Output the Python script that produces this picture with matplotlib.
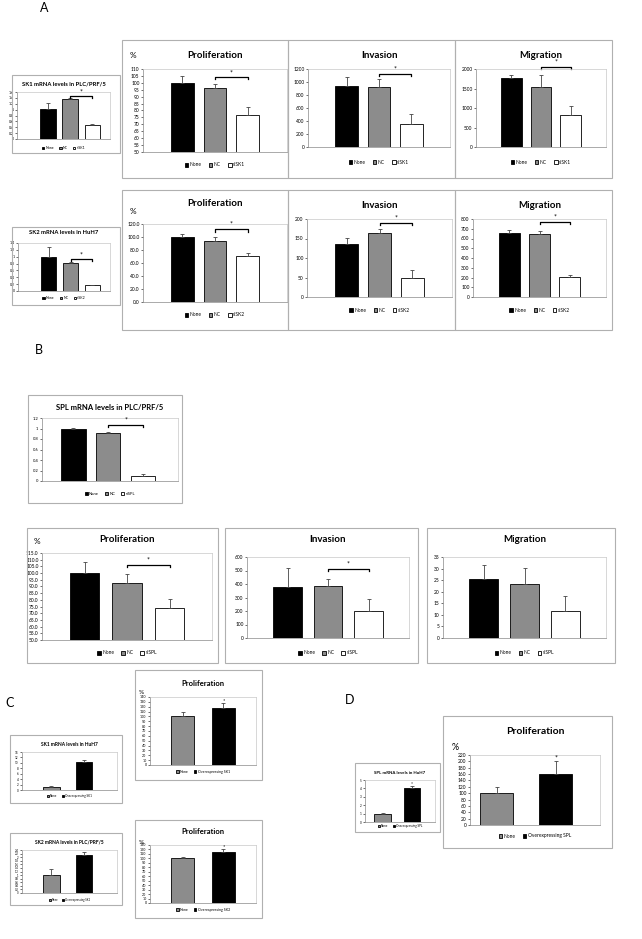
import matplotlib
matplotlib.use("Agg")
import matplotlib.pyplot as plt
from matplotlib.patches import Rectangle
import numpy as np

plt.rcParams["font.family"] = ["Lato", "DejaVu Sans"]

W, H = 642, 939

# ---- data ----
si_sk1 = ["None", "NC", "siSK1"]
si_sk2 = ["None", "NC", "siSK2"]
si_spl = ["None", "NC", "siSPL"]
oe_sk1 = ["None", "Overexpressing SK1"]
oe_sk2 = ["None", "Overexpressing SK2"]
oe_spl = ["None", "Overexpressing SPL"]

sk1_mrna = [1.02, 1.37, 0.48]
sk1_mrna_err = [0.22, 0.02, 0.03]
sk1_prolif = [100, 96.5, 77]
sk1_prolif_err = [5, 3, 5.5]
sk1_inv = [940, 930, 350]
sk1_inv_err = [130, 110, 160]
sk1_mig = [1760, 1540, 820]
sk1_mig_err = [80, 310, 220]

sk2_mrna = [1.0, 0.82, 0.17]
sk2_mrna_err = [0.28, 0.02, 0.01]
sk2_prolif = [100, 94.5, 70.5]
sk2_prolif_err = [4, 5, 4.5]
sk2_inv = [137, 163, 50]
sk2_inv_err = [15, 12, 18]
sk2_mig = [660, 648, 205]
sk2_mig_err = [25, 30, 20]

spl_mrna = [1.0, 0.91, 0.1]
spl_mrna_err = [0.01, 0.02, 0.03]
spl_prolif = [100, 92.5, 74]
spl_prolif_err = [8, 7, 6.5]
spl_inv = [380, 385, 200]
spl_inv_err = [140, 50, 90]
spl_mig = [25.5, 23.3, 11.5]
spl_mig_err = [6, 7, 6.5]

sk1_oe_mrna = [1, 10.3]
sk1_oe_mrna_err = [0.3, 0.8]
sk1_oe_prolif = [100, 118]
sk1_oe_prolif_err = [10, 10]
sk2_oe_mrna = [1.0, 2.1]
sk2_oe_mrna_err = [0.35, 0.2]
sk2_oe_prolif = [100, 115]
sk2_oe_prolif_err = [4, 5]
spl_oe_mrna = [1, 4]
spl_oe_mrna_err = [0.1, 0.3]
spl_oe_prolif = [100, 160]
spl_oe_prolif_err = [20, 40]

colors3 = ["black", "#8c8c8c", "white"]
colors2 = ["#8c8c8c", "black"]

fig = plt.figure(figsize=(W / 100, H / 100), dpi=100)


def box(x, y, w, h):
    fig.add_artist(Rectangle((x / W, 1 - (y + h) / H), w / W, h / H,
                             transform=fig.transFigure, fill=False,
                             edgecolor="#b0b0b0", lw=0.8))


def label(x, y, s, size=4, weight="normal"):
    fig.text(x / W, 1 - y / H, s, fontsize=size, weight=weight,
             ha="center", va="center")


def chart(rect, vals, errs, names, colors, ylim, step, fmt="{:g}",
          title=None, title_y=None, tsize=7, fs=3.5, leg_y=None,
          xlim=(-1.2, 3.2), width=0.7, pct=None):
    x, y, w, h = rect
    ax = fig.add_axes([x / W, 1 - (y + h) / H, w / W, h / H])
    for i in range(len(vals)):
        ax.bar(i, vals[i], width, color=colors[i], edgecolor="black",
               lw=0.6, label=names[i])
        ax.errorbar(i, vals[i], yerr=[[0], [errs[i]]], color="#444444",
                    capsize=1.5, lw=0.6, capthick=0.6)
    ax.set_xlim(*xlim)
    ax.set_ylim(*ylim)
    ticks = np.arange(ylim[0], ylim[1] + step / 2, step)
    ax.set_yticks(ticks)
    ax.set_yticklabels([fmt.format(round(t, 6)) for t in ticks])
    ax.set_xticks([])
    ax.tick_params(axis="y", labelsize=fs, length=1.5, width=0.4, pad=1)
    for s in ax.spines.values():
        s.set_color("#c8c8c8")
        s.set_linewidth(0.5)
    ax.spines["left"].set_color("#888888")
    ax.spines["bottom"].set_color("#888888")
    if title:
        label(x + w / 2, title_y, title, tsize, "bold")
    if pct:
        label(pct[0], pct[1], "%", tsize * 0.85)
    if leg_y:
        fig.legend(*ax.get_legend_handles_labels(), loc="center",
                   bbox_to_anchor=((x + w / 2) / W, 1 - leg_y / H),
                   ncol=len(vals), frameon=False, fontsize=fs,
                   handlelength=0.7, handleheight=0.7, handletextpad=0.3,
                   columnspacing=1.5)
    return ax


def bracket(ax, y, d, x0=1, x1=2):
    ax.plot([x0, x0, x1, x1], [y - d, y, y, y - d], color="black",
            lw=0.9, clip_on=False)
    ax.text((x0 + x1) / 2, y + d * 0.6, "*", ha="center", va="bottom",
            fontsize=5, clip_on=False)


# ---------------- panel A ----------------
fig.text(40 / W, 1 - 8 / H, "A", fontsize=9, va="center")

box(12, 75, 108, 78)
a = chart((17, 92, 93, 47), sk1_mrna, sk1_mrna_err, si_sk1, colors3,
          (0, 1.6), 0.2, title="SK1 mRNA levels in PLC/PRF/5", title_y=84,
          tsize=4.2, fs=2.5, leg_y=148, xlim=(-1.4, 2.8))
bracket(a, 1.45, 0.06)

box(122, 40, 166, 138)
box(288, 40, 167, 138)
box(455, 40, 157, 138)
a = chart((143, 69, 144, 83), sk1_prolif, sk1_prolif_err, si_sk1, colors3,
          (50, 110), 5, title="Proliferation", title_y=55, leg_y=165,
          pct=(133, 55))
bracket(a, 104, 1.5)
a = chart((308, 69, 142, 78), sk1_inv, sk1_inv_err, si_sk1, colors3,
          (0, 1200), 200, title="Invasion", title_y=55, leg_y=162)
bracket(a, 1130, 35)
a = chart((476, 69, 130, 78), sk1_mig, sk1_mig_err, si_sk1, colors3,
          (0, 2000), 500, title="Migration", title_y=55, leg_y=162)
bracket(a, 2050, 60)

box(12, 227, 108, 78)
a = chart((18, 243, 92, 48), sk2_mrna, sk2_mrna_err, si_sk2, colors3,
          (0, 1.4), 0.2, title="SK2 mRNA levels in HuH7", title_y=233,
          tsize=4.2, fs=2.5, leg_y=298, xlim=(-1.4, 2.8))
bracket(a, 0.92, 0.05)

box(122, 190, 166, 140)
box(288, 190, 167, 140)
box(455, 190, 157, 140)
a = chart((143, 224, 144, 78), sk2_prolif, sk2_prolif_err, si_sk2, colors3,
          (0, 120), 20, fmt="{:.1f}", title="Proliferation", title_y=204,
          leg_y=315, pct=(133, 212))
bracket(a, 112, 4)
a = chart((307, 219, 145, 78), sk2_inv, sk2_inv_err, si_sk2, colors3,
          (0, 200), 50, title="Invasion", title_y=205, leg_y=310)
bracket(a, 190, 6)
a = chart((473, 219, 133, 78), sk2_mig, sk2_mig_err, si_sk2, colors3,
          (0, 800), 100, title="Migration", title_y=205, leg_y=310)
bracket(a, 770, 25)

# ---------------- panel B ----------------
fig.text(35 / W, 1 - 350 / H, "B", fontsize=9, va="center")

box(28, 395, 154, 108)
a = chart((42, 418, 136, 63), spl_mrna, spl_mrna_err, si_spl, colors3,
          (0, 1.2), 0.2, title="SPL mRNA levels in PLC/PRF/5", title_y=407,
          tsize=5.5, fs=3, leg_y=494, xlim=(-0.9, 3.0))
bracket(a, 1.07, 0.04)

box(27, 528, 191, 135)
box(225, 528, 193, 135)
box(427, 528, 188, 135)
a = chart((42, 553, 170, 87), spl_prolif, spl_prolif_err, si_spl, colors3,
          (50, 115), 5, fmt="{:.1f}", title="Proliferation", title_y=540,
          leg_y=653, pct=(37, 542), xlim=(-1.0, 3.0))
bracket(a, 106, 1.5)
a = chart((247, 557, 162, 81), spl_inv, spl_inv_err, si_spl, colors3,
          (0, 600), 100, title="Invasion", title_y=540, leg_y=653,
          xlim=(-1.0, 3.0))
bracket(a, 510, 15)
a = chart((443, 557, 163, 81), spl_mig, spl_mig_err, si_spl, colors3,
          (0, 35), 5, title="Migration", title_y=540, leg_y=653,
          xlim=(-1.0, 3.0))

# ---------------- panel C ----------------
fig.text(5 / W, 1 - 703 / H, "C", fontsize=9, va="center")

box(10, 735, 112, 68)
a = chart((22, 752, 95, 38), sk1_oe_mrna, sk1_oe_mrna_err, oe_sk1, colors2,
          (0, 14), 2, title="SK1 mRNA levels in HuH7", title_y=745,
          tsize=3.5, fs=2.2, leg_y=796, xlim=(-0.9, 2.0), width=0.5)

box(135, 670, 127, 110)
a = chart((150, 697, 106, 68), sk1_oe_prolif, sk1_oe_prolif_err, oe_sk1,
          colors2, (0, 140), 10, title="Proliferation", title_y=683,
          tsize=5.5, fs=2.6, leg_y=772, xlim=(-0.8, 1.8), width=0.55,
          pct=(141, 693))
a.text(1, sk1_oe_prolif[1] + sk1_oe_prolif_err[1], "*", ha="center",
       va="bottom", fontsize=4)

box(10, 833, 112, 72)
a = chart((22, 850, 95, 43), sk2_oe_mrna, sk2_oe_mrna_err, oe_sk2, colors2,
          (0, 2.4), 0.2, title="SK2 mRNA levels in PLC/PRF/5", title_y=842,
          tsize=3.5, fs=2.0, leg_y=900, xlim=(-0.9, 2.0), width=0.5)

box(135, 820, 127, 98)
a = chart((150, 845, 106, 58), sk2_oe_prolif, sk2_oe_prolif_err, oe_sk2,
          colors2, (0, 130), 10, title="Proliferation", title_y=832,
          tsize=5.5, fs=2.6, leg_y=910, xlim=(-0.8, 1.8), width=0.55,
          pct=(141, 842))
a.text(1, sk2_oe_prolif[1] + sk2_oe_prolif_err[1], "*", ha="center",
       va="bottom", fontsize=4)

# ---------------- panel D ----------------
fig.text(345 / W, 1 - 700 / H, "D", fontsize=9, va="center")

box(355, 763, 85, 69)
a = chart((365, 780, 70, 42), spl_oe_mrna, spl_oe_mrna_err, oe_spl, colors2,
          (0, 5), 1, title="SPL mRNA levels in HuH7", title_y=773,
          tsize=3.2, fs=2.2, leg_y=826, xlim=(-0.6, 1.8), width=0.55)
a.text(1, spl_oe_mrna[1] + spl_oe_mrna_err[1], "*", ha="center",
       va="bottom", fontsize=3.5)

box(443, 716, 169, 132)
a = chart((470, 755, 130, 70), spl_oe_prolif, spl_oe_prolif_err, oe_spl,
          colors2, (0, 220), 20, title="Proliferation", title_y=732,
          tsize=7.5, fs=3.5, leg_y=836, xlim=(-0.45, 1.75), width=0.55,
          pct=(455, 748))
a.text(1, spl_oe_prolif[1] + spl_oe_prolif_err[1], "*", ha="center",
       va="bottom", fontsize=5)

fig.savefig("out.png", dpi=100)
